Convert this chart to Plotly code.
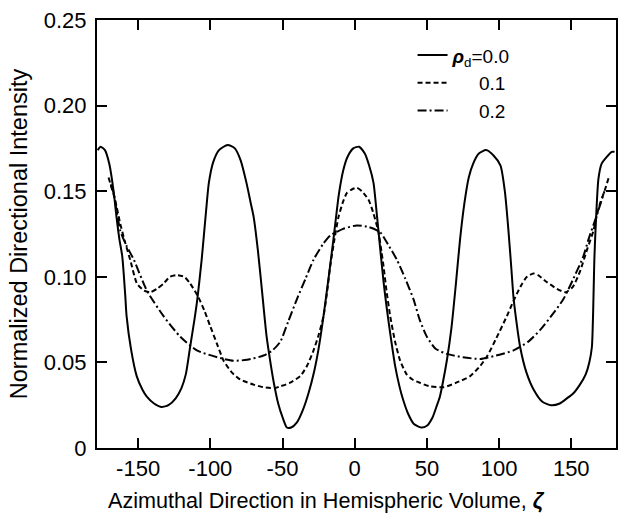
import plotly.graph_objects as go

# rho_d = 0.0 (solid)
zeta_00 = [-178, -176, -173, -170, -167, -165, -163, -161, -159, -158, -155, -151, -147, -144, -139, -134,
           -129, -124, -120, -117, -114, -111, -109, -106, -103, -101, -98, -94, -88, -83, -79, -75, -72,
           -70, -67, -64, -61, -58, -56, -53, -50, -47, -44, -40, -36, -32, -28, -25, -21.6, -18, -14.7,
           -11, -8, -5, -1, 3, 7, 10, 13, 15.5, 17.7, 20, 22, 24.6, 28, 31, 33.6, 37, 41, 46, 50, 54, 57,
           59, 61, 64, 67, 70, 73, 76, 79, 82, 86, 91, 96, 101, 104, 106.5, 108.5, 110, 112, 114.6, 119,
           124, 130, 136, 142, 147, 151.5, 156, 160, 162.5, 164.3, 165.4, 166, 166.8, 168.8, 171, 174.6,
           178, 180]
val_00 = [0.174, 0.176, 0.174, 0.166, 0.150, 0.135, 0.122, 0.112, 0.090, 0.077, 0.058, 0.042, 0.034, 0.030,
          0.026, 0.024, 0.025, 0.029, 0.035, 0.043, 0.059, 0.075, 0.087, 0.110, 0.138, 0.155, 0.167, 0.174,
          0.177, 0.175, 0.168, 0.155, 0.143, 0.135, 0.115, 0.090, 0.065, 0.048, 0.038, 0.026, 0.018, 0.012,
          0.012, 0.015, 0.022, 0.032, 0.045, 0.058, 0.077, 0.100, 0.122, 0.148, 0.162, 0.170, 0.175, 0.176,
          0.172, 0.165, 0.155, 0.135, 0.116, 0.097, 0.083, 0.067, 0.048, 0.036, 0.028, 0.020, 0.014, 0.012,
          0.013, 0.018, 0.025, 0.030, 0.038, 0.052, 0.070, 0.095, 0.122, 0.143, 0.158, 0.166, 0.172, 0.174,
          0.171, 0.165, 0.150, 0.127, 0.105, 0.088, 0.074, 0.059, 0.044, 0.034, 0.027, 0.025, 0.026, 0.029,
          0.032, 0.037, 0.043, 0.050, 0.059, 0.088, 0.110, 0.127, 0.157, 0.166, 0.170, 0.173, 0.173]

# rho_d = 0.1 (dashed)
zeta_01 = [-170.5, -166, -162.4, -159, -155.5, -150.8, -146, -141.6, -137, -132.4, -128, -123.1, -118, -113.9,
           -108.2, -104, -100, -95, -90.8, -85, -79.3, -70, -63.2, -55, -51.6, -45, -37.7, -33, -28.5, -25,
           -21.6, -19, -17, -14, -11.2, -8, -5.4, -2, 1.5, 5, 9.6, 13, 16.5, 18.5, 20, 22, 24.6, 28, 31.5,
           36, 40, 45.4, 52, 61.5, 70, 80, 87, 92, 98, 105.4, 109, 112.3, 116, 119.3, 123.8, 127, 133, 140,
           146, 151, 156, 161, 165.4, 167.7, 170, 173, 176]
val_01 = [0.158, 0.145, 0.131, 0.120, 0.110, 0.096, 0.092, 0.091, 0.093, 0.096, 0.100, 0.101, 0.100, 0.096,
          0.088, 0.080, 0.071, 0.060, 0.051, 0.044, 0.040, 0.037, 0.0355, 0.035, 0.036, 0.038, 0.042, 0.048,
          0.057, 0.066, 0.077, 0.092, 0.106, 0.122, 0.135, 0.144, 0.149, 0.151, 0.152, 0.150, 0.145, 0.137,
          0.126, 0.115, 0.106, 0.092, 0.077, 0.062, 0.051, 0.043, 0.040, 0.038, 0.036, 0.0355, 0.038, 0.042,
          0.048, 0.054, 0.064, 0.077, 0.084, 0.090, 0.096, 0.100, 0.102, 0.101, 0.097, 0.093, 0.091, 0.094,
          0.103, 0.116, 0.127, 0.136, 0.143, 0.150, 0.158]

# rho_d = 0.2 (dash-dot)
zeta_02 = [-169, -167, -162.4, -158, -153, -144, -132.4, -120.8, -109.3, -93, -84, -74.6, -63.2, -57, -51.6,
           -46, -40, -34, -28.5, -22, -17, -8, 1.5, 10, 17.7, 23, 29.2, 35, 40.7, 45, 50, 56, 63.8, 75, 87,
           98, 110, 120, 128.5, 137, 144.6, 151, 158.4, 162, 166.5, 170, 173]
val_02 = [0.154, 0.149, 0.127, 0.118, 0.110, 0.092, 0.077, 0.065, 0.057, 0.0525, 0.051, 0.0515, 0.054, 0.057,
          0.062, 0.074, 0.087, 0.099, 0.110, 0.119, 0.124, 0.128, 0.130, 0.129, 0.126, 0.119, 0.110, 0.099,
          0.087, 0.075, 0.065, 0.058, 0.055, 0.053, 0.052, 0.054, 0.057, 0.062, 0.069, 0.078, 0.087, 0.098,
          0.112, 0.122, 0.133, 0.142, 0.150]

x_ticks = [-150, -100, -50, 0, 50, 100, 150]
x_tick_labels = ["-150", "-100", "-50", "0", "50", "100", "150"]
y_ticks = [0, 0.05, 0.10, 0.15, 0.20, 0.25]
y_tick_labels = ["0", "0.05", "0.10", "0.15", "0.20", "0.25"]
x_title = "Azimuthal Direction in Hemispheric Volume, <i><b>ζ</b></i>"
y_title = "Normalized Directional Intensity"

FONT = "Liberation Sans"

fig = go.Figure()
fig.add_trace(go.Scatter(x=zeta_00, y=val_00, mode="lines",
                         line=dict(color="black", width=2, shape="spline", smoothing=0.6),
                         name="<b><i>ρ</i></b><sub>d</sub>=0.0"))
fig.add_trace(go.Scatter(x=zeta_01, y=val_01, mode="lines",
                         line=dict(color="black", width=2, dash="5px,3px", shape="spline", smoothing=0.6),
                         name="&nbsp;&nbsp;&nbsp;&nbsp;&nbsp;0.1"))
fig.add_trace(go.Scatter(x=zeta_02, y=val_02, mode="lines",
                         line=dict(color="black", width=2, dash="9px,3px,2px,3px", shape="spline", smoothing=0.6),
                         name="&nbsp;&nbsp;&nbsp;&nbsp;&nbsp;0.2"))

axis_common = dict(showgrid=False, zeroline=False, showline=True, linecolor="black", linewidth=2,
                   mirror="ticks", ticks="inside", tickcolor="black", tickwidth=2, ticklen=10,
                   automargin=False)

fig.update_layout(
    width=618, height=524,
    margin=dict(l=97, r=2, t=20, b=76),
    paper_bgcolor="white", plot_bgcolor="white",
    font=dict(family=FONT, color="black", size=20),
    showlegend=True,
    legend=dict(x=0.608, y=0.962, xanchor="left", yanchor="top", bgcolor="rgba(0,0,0,0)",
                font=dict(size=19, family=FONT), tracegroupgap=0),
    xaxis=dict(range=[-178.5, 181], tickvals=x_ticks, ticktext=x_tick_labels, tickfont=dict(size=22),
               **axis_common),
    yaxis=dict(range=[0, 0.25], tickvals=y_ticks, ticktext=y_tick_labels, tickfont=dict(size=22),
               ticklabelstandoff=4,
               title=dict(text=y_title, font=dict(size=23.5), standoff=10),
               **axis_common),
    annotations=[dict(text=x_title, xref="paper", yref="paper", x=0.443, y=-0.122,
                      xanchor="center", yanchor="middle", showarrow=False, font=dict(size=21.6))],
)

fig.write_html("out.html", config={"displayModeBar": False},
               post_script="document.body.style.margin='0';")
